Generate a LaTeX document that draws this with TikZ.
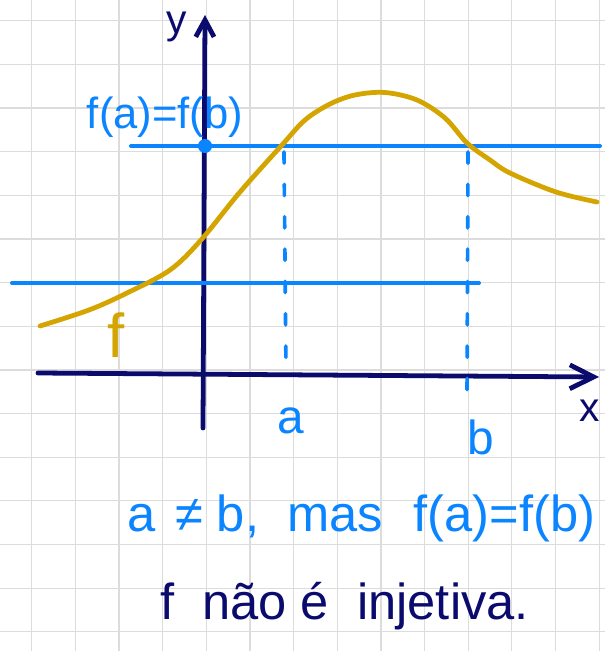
\documentclass[tikz,border=0pt]{standalone}
\usepackage{fontspec}
\setmainfont{Liberation Sans}
\usepackage{tikz}
\usetikzlibrary{arrows.meta}
\definecolor{navy}{HTML}{0B0B6E}
\definecolor{pen}{HTML}{0A84FF}
\definecolor{gold}{HTML}{D4A500}
\definecolor{paper}{HTML}{DCDCDC}

\begin{document}
\begin{tikzpicture}[x=0.025cm,y=-0.025cm,
  gridline/.style={paper,line width=0.9pt},
  axisline/.style={navy,line width=3.4pt,line cap=round},
  blueline/.style={pen,line width=2.8pt,line cap=round},
  dashline/.style={pen,line width=2.6pt,line cap=round,dash pattern=on 8pt off 15pt},
  hand/.style={font=\fontsize{#1}{#1}\selectfont}]
  \useasboundingbox (0,0) rectangle (605,651);

  % Squared paper
  \foreach \i in {0,...,13} \draw[gridline] ({31.7+43.65*\i},0) -- ({31.7+43.65*\i},651);
  \foreach \j in {0,...,14} \draw[gridline] (0,{20.7+43.65*\j}) -- (605,{20.7+43.65*\j});

  % Axes
  \coordinate (xstart) at (38,373);
  \coordinate (xend) at (599,377);
  \coordinate (ystart) at (203,428);
  \coordinate (yend) at (205,15);
  \draw[axisline,-{Straight Barb[length=17pt,width=17pt]}] (xstart) -- (xend);
  \draw[axisline,-{Straight Barb[length=12pt,width=13pt]}] (ystart) -- (yend);
  \node[navy,hand=29pt] (ylabel) at (177,27) {y};
  \node[navy,hand=29pt] (xlabel) at (590,411) {x};

  % Horizontal lines
  \coordinate (hileft) at (131,146);
  \coordinate (hiright) at (600,146);
  \coordinate (loleft) at (12,283);
  \coordinate (loright) at (479,283);
  \draw[blueline] (hileft) -- (hiright);
  \draw[blueline] (loleft) -- (loright);
  \coordinate (fab) at (205,146);
  \fill[pen] (fab) circle (5pt);
  \node[pen,hand=31pt] (fablabel) at (165,117) {f(a)=f(b)};

  % The function f
  \draw[gold,line width=3.4pt,line cap=round] plot[smooth,tension=0.55] coordinates {(40,326) (89,310) (127,293) (170,270) (201,240) (240,192) (282,145) (305,120) (330,104) (355,95) (385,92.5) (417,100) (445,118) (467,143) (490,160) (510,173) (556,192) (597,202)};
  \node[gold,hand=44pt] (flabel) at (116,335) {f};

  % a and b
  \coordinate (atop) at (284,152);
  \coordinate (abot) at (286,370);
  \coordinate (btop) at (468,152);
  \coordinate (bbot) at (467,400);
  \draw[dashline] (atop) -- (abot);
  \draw[dashline] (btop) -- (bbot);
  \node[pen,hand=34pt] (alabel) at (291,421) {a};
  \node[pen,hand=34pt] (blabel) at (481,437) {b};

  % Conclusion
  \node[pen,hand=36pt,anchor=base west,inner sep=0pt] (note1) at (127,531) {a\hspace{14pt}≠\hspace{10pt}b,\hspace{20pt}mas\hspace{22pt}f(a)=f(b)};
  \node[navy,hand=36pt,anchor=base west,inner sep=0pt] (note2) at (160,619) {f\hspace{20pt}não\hspace{10pt}é\hspace{20pt}injetiva.};
\end{tikzpicture}
\end{document}
